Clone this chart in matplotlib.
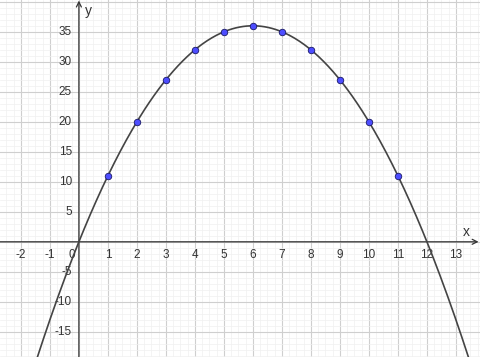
import numpy as np
import matplotlib.pyplot as plt
from matplotlib.ticker import MultipleLocator

plt.rcParams["font.family"] = ["Liberation Sans", "DejaVu Sans"]

# Data points
x_pts = [1, 2, 3, 4, 5, 6, 7, 8, 9, 10, 11]
y_pts = [11, 20, 27, 32, 35, 36, 35, 32, 27, 20, 11]

# parabola through the points: y = -x^2 + 12x
coeffs = [-1, 12, 0]

x_ticks = [-2, -1, 1, 2, 3, 4, 5, 6, 7, 8, 9, 10, 11, 12, 13]
y_ticks = [-15, -10, -5, 5, 10, 15, 20, 25, 30, 35]

xmin, xmax = -2.72, 13.83
ymin, ymax = -19.2, 40.3

fig = plt.figure(figsize=(4.8, 3.57), dpi=100)
ax = fig.add_axes([0, 0, 1, 1])
ax.set_xlim(xmin, xmax)
ax.set_ylim(ymin, ymax)

# grid
ax.xaxis.set_major_locator(MultipleLocator(1))
ax.xaxis.set_minor_locator(MultipleLocator(0.25))
ax.yaxis.set_major_locator(MultipleLocator(5))
ax.yaxis.set_minor_locator(MultipleLocator(1))
ax.grid(which="major", color="#cfcfcf", lw=0.8)
ax.grid(which="minor", color="#f0f0f0", lw=0.5)
ax.set_axisbelow(True)
ax.tick_params(which="both", length=0, labelbottom=False, labelleft=False)
for s in ax.spines.values():
    s.set_visible(False)

# axes lines with open arrow heads
ax.annotate("", xy=(xmax - 0.05, 0), xytext=(xmin, 0),
            arrowprops=dict(arrowstyle="->", color="#333333", lw=0.9,
                            shrinkA=0, shrinkB=0, mutation_scale=9))
ax.annotate("", xy=(0, ymax - 0.1), xytext=(0, ymin),
            arrowprops=dict(arrowstyle="->", color="#333333", lw=0.9,
                            shrinkA=0, shrinkB=0, mutation_scale=9))

# tick labels
for t in x_ticks:
    ax.annotate(str(t), (t, 0), xytext=(0, -5),
                textcoords="offset points", ha="center", va="top",
                fontsize=8.5, color="#333333")
for t in y_ticks:
    ax.annotate(str(t), (0, t), xytext=(-5, 0),
                textcoords="offset points", ha="right", va="center",
                fontsize=8.5, color="#333333")
ax.annotate("0", (0, 0), xytext=(-3, -5), textcoords="offset points",
            ha="right", va="top", fontsize=8.5, color="#333333")
ax.annotate("x", (xmax, 0), xytext=(-10, 2), textcoords="offset points",
            ha="center", va="bottom", fontsize=10, color="#333333")
ax.annotate("y", (0, ymax), xytext=(4, -3), textcoords="offset points",
            ha="left", va="top", fontsize=10, color="#333333")

# curve
xc = np.linspace(xmin, xmax, 400)
ax.plot(xc, np.polyval(coeffs, xc), color="#444444", lw=1.2, zorder=3)

# points
ax.scatter(x_pts, y_pts, s=22, color="#4d4dff", edgecolors="#1a1a66",
           linewidths=0.6, zorder=4)

fig.savefig("out.png", dpi=100)
